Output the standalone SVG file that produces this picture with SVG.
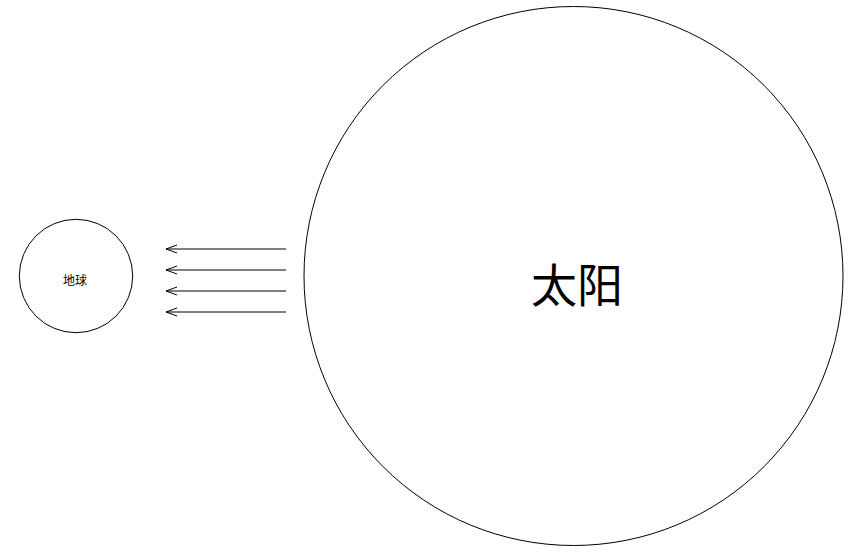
<svg xmlns="http://www.w3.org/2000/svg" width="854" height="559" viewBox="0 0 854 559">
<style>
.body{fill:#fff;stroke:#000;stroke-width:1}
.lbl{font-family:"Noto Sans CJK SC","Noto Sans",sans-serif;fill:#000;text-anchor:middle;dominant-baseline:central}
.ray{stroke:#000;stroke-width:1;fill:none;marker-end:url(#ah)}
</style>
<defs>
<marker id="ah" markerUnits="userSpaceOnUse" markerWidth="14" markerHeight="10" refX="12" refY="5" orient="auto" viewBox="0 0 14 10">
<path d="M1,1 L12,5 L1,9" fill="none" stroke="#000" stroke-width="1"/>
</marker>
</defs>
<rect width="854" height="559" fill="#fff"/>
<g id="sun">
<circle class="body" cx="573.5" cy="276" r="269.5"/>
<text class="lbl" x="577" y="282" font-size="46">太阳</text>
</g>
<g id="earth">
<circle class="body" cx="76" cy="276" r="56.7"/>
<text class="lbl" x="75" y="279" font-size="12">地球</text>
</g>
<g id="connectors">
<line class="ray" x1="286" y1="249" x2="166" y2="249"/>
<line class="ray" x1="286" y1="270" x2="166" y2="270"/>
<line class="ray" x1="286" y1="291" x2="166" y2="291"/>
<line class="ray" x1="286" y1="312" x2="166" y2="312"/>
</g>
</svg>
